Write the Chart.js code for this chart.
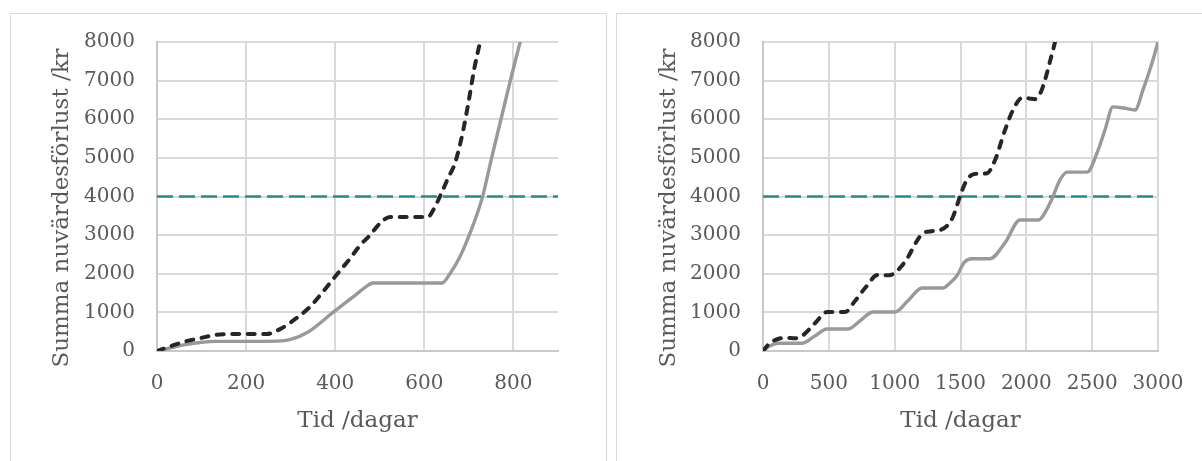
<!DOCTYPE html>
<html lang="sv">
<head>
<meta charset="utf-8">
<title>Summa nuvärdesförlust</title>
<script src="https://cdn.jsdelivr.net/npm/chart.js@4.4.1/dist/chart.umd.min.js"></script>
<style>
  html, body { margin: 0; padding: 0; background: #ffffff; }
  body { position: relative; width: 1202px; height: 461px; overflow: hidden; }
  .panel { position: absolute; border: 1.5px solid #d9d9d9; box-sizing: border-box; }
  #panelA { left: 10px; top: 13px; width: 597px; height: 470px; }
  #panelB { left: 616px; top: 13px; width: 600px; height: 470px; }
  canvas { position: absolute; }
  #chartA { left: 10px; top: 13px; }
  #chartB { left: 616px; top: 13px; }
</style>
</head>
<body>
<div class="panel" id="panelA"></div>
<div class="panel" id="panelB"></div>
<canvas id="chartA" width="596" height="448"></canvas>
<canvas id="chartB" width="586" height="448"></canvas>
<script>
// Gränsvärde (kr) som ritas som streckad linje i båda diagrammen
const thresholdCost = 4000;

// Vänster diagram: 0–900 dagar
const leftDays = [0, 900];
const leftXTicks = [0, 200, 400, 600, 800];
const leftSolidDays = [0, 30, 60, 100, 130, 200, 270, 300, 340, 395, 440, 462, 485, 560, 640, 658, 680, 698, 720, 732, 750, 772, 793, 815, 822];
const leftSolidCost = [0, 80, 160, 225, 250, 250, 255, 300, 500, 1000, 1400, 1600, 1760, 1760, 1760, 2010, 2440, 2920, 3600, 4050, 4950, 6000, 7000, 8000, 8330];
const leftDashedDays = [0, 30, 58, 100, 134, 180, 246, 275, 298, 343, 370, 405, 433, 456, 478, 500, 523, 560, 608, 620, 635, 653, 669, 687, 700, 712, 725, 732];
const leftDashedCost = [0, 120, 230, 340, 420, 440, 440, 560, 725, 1140, 1500, 2000, 2390, 2740, 3000, 3300, 3470, 3470, 3470, 3650, 4000, 4470, 4870, 5700, 6500, 7300, 8000, 8400];

// Höger diagram: 0–3000 dagar
const rightDays = [0, 3000];
const rightXTicks = [0, 500, 1000, 1500, 2000, 2500, 3000];
const rightSolidDays = [0, 50, 114, 200, 296, 390, 486, 560, 646, 740, 835, 920, 1003, 1100, 1208, 1290, 1367, 1420, 1473, 1530, 1587, 1660, 1724, 1838, 1952, 2020, 2089, 2180, 2256, 2309, 2390, 2461, 2537, 2597, 2658, 2740, 2825, 2886, 2954, 3000];
const rightSolidCost = [0, 130, 200, 200, 200, 380, 570, 570, 570, 790, 1010, 1010, 1010, 1300, 1630, 1630, 1630, 1760, 1950, 2300, 2390, 2390, 2390, 2800, 3390, 3390, 3390, 3830, 4430, 4630, 4630, 4630, 5130, 5720, 6320, 6290, 6240, 6760, 7450, 8000];
const rightDashedDays = [0, 50, 114, 180, 243, 300, 395, 486, 560, 623, 700, 775, 873, 930, 980, 1040, 1101, 1160, 1215, 1280, 1344, 1400, 1443, 1496, 1540, 1587, 1650, 1701, 1762, 1838, 1899, 1967, 2020, 2066, 2110, 2142, 2180, 2218, 2235];
const rightDashedCost = [0, 200, 310, 340, 330, 400, 720, 1010, 1010, 1010, 1300, 1630, 1970, 1960, 1980, 2150, 2430, 2800, 3050, 3100, 3130, 3250, 3477, 4000, 4380, 4560, 4590, 4600, 4940, 5720, 6240, 6550, 6540, 6520, 6700, 7020, 7500, 8000, 8250];

// Y-axelns skalsteg
const costTicks = [0, 1000, 2000, 3000, 4000, 5000, 6000, 7000, 8000];

const yTitle = 'Summa nuvärdesförlust /kr';
const xTitle = 'Tid /dagar';

const textColor = '#595959';
const gridColor = '#d9d9d9';
const serif = "'DejaVu Serif', 'Liberation Serif', serif";

Chart.defaults.font.family = serif;
Chart.defaults.color = textColor;

// Lodrät axeltitel, centrerad något under diagramytans mitt
const yTitlePlugin = {
  id: 'yTitle',
  afterDraw(chart, args, opts) {
    const { ctx, chartArea } = chart;
    ctx.save();
    ctx.translate(opts.x, (chartArea.top + chartArea.bottom) / 2 + opts.shift);
    ctx.rotate(-Math.PI / 2);
    ctx.font = '23px ' + serif;
    ctx.fillStyle = textColor;
    ctx.textAlign = 'center';
    ctx.textBaseline = 'middle';
    ctx.fillText(opts.text, 0, 0);
    ctx.restore();
  }
};

function toPoints(xs, ys) {
  return xs.map((x, i) => ({ x: x, y: ys[i] }));
}

function buildChart(canvasId, days, xTicks, solidDays, solidCost, dashedDays, dashedCost, rightPad, titleX) {
  const xStep = xTicks[1] - xTicks[0];
  return new Chart(document.getElementById(canvasId), {
    type: 'line',
    plugins: [yTitlePlugin],
    data: {
      datasets: [
        {
          data: toPoints(dashedDays, dashedCost),
          borderColor: '#262626',
          borderWidth: 4,
          borderDash: [7, 8.5],
          borderCapStyle: 'round',
          cubicInterpolationMode: 'monotone',
          pointRadius: 0
        },
        {
          data: toPoints(solidDays, solidCost),
          borderColor: '#999999',
          borderWidth: 3.4,
          cubicInterpolationMode: 'monotone',
          pointRadius: 0
        },
        {
          data: toPoints(days, [thresholdCost, thresholdCost]),
          borderColor: '#2a8a87',
          borderWidth: 2.5,
          borderDash: [16, 6],
          pointRadius: 0
        }
      ]
    },
    options: {
      responsive: false,
      animation: false,
      devicePixelRatio: 1,
      layout: { autoPadding: false, padding: { top: 29, right: rightPad, bottom: 0, left: 0 } },
      plugins: {
        legend: { display: false },
        tooltip: { enabled: false },
        yTitle: { text: yTitle, x: titleX, shift: 11.5 }
      },
      scales: {
        x: {
          type: 'linear',
          min: days[0],
          max: days[1],
          // fast axelhöjd så att diagramytan hamnar på samma plats i båda panelerna
          afterFit: (s) => { s.height = 110; s.paddingLeft = 0; s.paddingRight = 0; },
          ticks: {
            stepSize: xStep,
            includeBounds: false,
            padding: 21,
            maxRotation: 0,
            font: { size: 20 },
            color: textColor,
            callback: (v) => String(v)
          },
          grid: { color: gridColor, lineWidth: 2, drawTicks: false },
          border: { color: '#c8c8c8', width: 2 },
          title: {
            display: true,
            text: xTitle,
            font: { size: 23 },
            color: textColor,
            padding: { top: 0, bottom: 26 }
          }
        },
        y: {
          min: costTicks[0],
          max: costTicks[costTicks.length - 1],
          afterFit: (s) => { s.width = 147; s.paddingTop = 0; s.paddingBottom = 0; },
          ticks: {
            stepSize: costTicks[1] - costTicks[0],
            padding: 22,
            font: { size: 20 },
            color: textColor,
            callback: (v) => String(v)
          },
          grid: { color: gridColor, lineWidth: 2, drawTicks: false },
          border: { color: '#c8c8c8', width: 2 },
          title: { display: false }
        }
      }
    }
  });
}

buildChart('chartA', leftDays, leftXTicks, leftSolidDays, leftSolidCost, leftDashedDays, leftDashedCost, 48, 52);
buildChart('chartB', rightDays, rightXTicks, rightSolidDays, rightSolidCost, rightDashedDays, rightDashedCost, 44, 53);
</script>
</body>
</html>
